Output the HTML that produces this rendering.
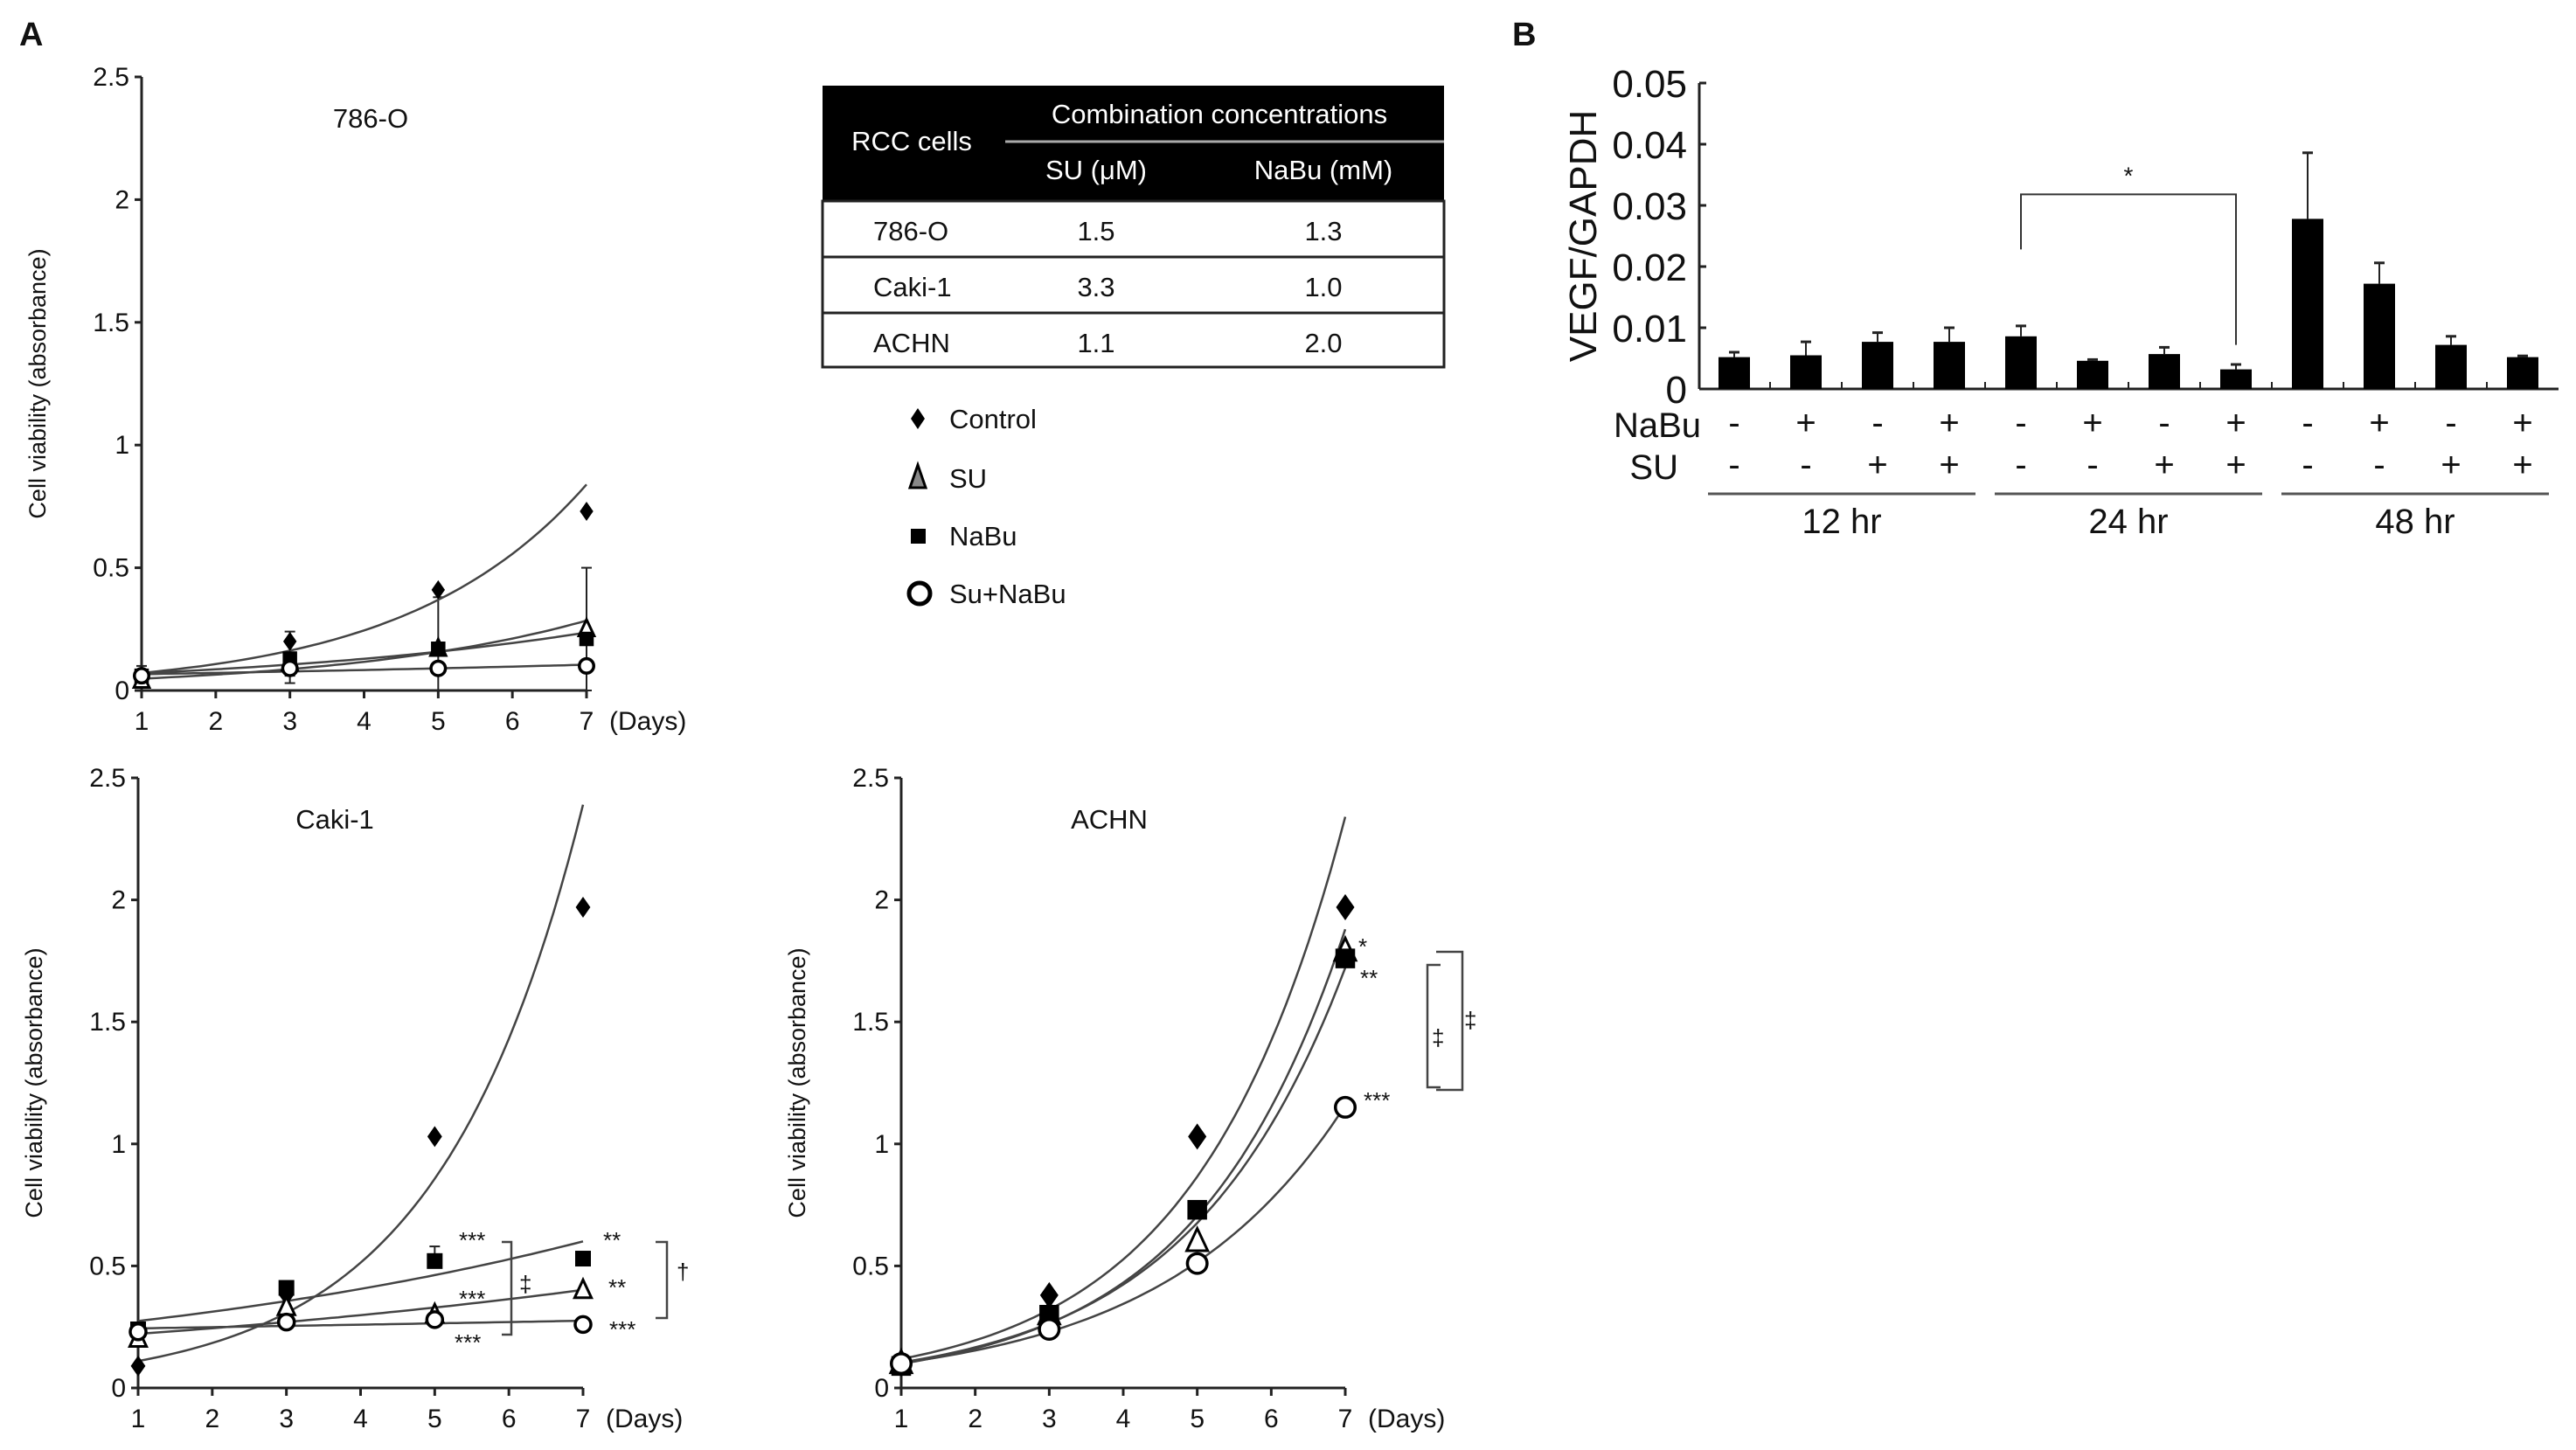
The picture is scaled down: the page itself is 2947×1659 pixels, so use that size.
<!DOCTYPE html>
<html><head><meta charset="utf-8"><style>
html,body{margin:0;padding:0;background:#fff;}
svg{display:block;}
text{font-family:"Liberation Sans Narrow","Liberation Sans",sans-serif;fill:#111;}
.yt{font-family:"Liberation Sans",sans-serif;}
</style></head><body>
<svg id="fig" width="2947" height="1659" viewBox="0 0 2947 1659" xmlns="http://www.w3.org/2000/svg">
<text x="22" y="52" font-size="38" font-weight="bold" font-family="Liberation Sans">A</text>
<text x="1730" y="52" font-size="38" font-weight="bold" font-family="Liberation Sans">B</text>
<g id="table">
<rect x="941" y="98" width="711" height="132" fill="#000"/>
<text x="1395" y="141" font-size="31" text-anchor="middle" style="fill:#fff">Combination concentrations</text>
<line x1="1150" y1="162" x2="1652" y2="162" stroke="#aaa" stroke-width="3"/>
<text x="1043" y="172" font-size="31" text-anchor="middle" style="fill:#fff">RCC cells</text>
<text x="1254" y="205" font-size="31" text-anchor="middle" style="fill:#fff">SU (μM)</text>
<text x="1514" y="205" font-size="31" text-anchor="middle" style="fill:#fff">NaBu (mM)</text>
<rect x="941" y="230" width="711" height="190" fill="none" stroke="#222" stroke-width="3"/>
<line x1="941" y1="294" x2="1652" y2="294" stroke="#222" stroke-width="3"/>
<line x1="941" y1="358" x2="1652" y2="358" stroke="#222" stroke-width="3"/>
<text x="999" y="275" font-size="31">786-O</text>
<text x="1254" y="275" font-size="31" text-anchor="middle">1.5</text>
<text x="1514" y="275" font-size="31" text-anchor="middle">1.3</text>
<text x="999" y="339" font-size="31">Caki-1</text>
<text x="1254" y="339" font-size="31" text-anchor="middle">3.3</text>
<text x="1514" y="339" font-size="31" text-anchor="middle">1.0</text>
<text x="999" y="403" font-size="31">ACHN</text>
<text x="1254" y="403" font-size="31" text-anchor="middle">1.1</text>
<text x="1514" y="403" font-size="31" text-anchor="middle">2.0</text>
</g>
<g id="legend">
<path d="M1050 467 L1058 479 L1050 491 L1042 479Z" fill="#000"/>
<text x="1086" y="490" font-size="31">Control</text>
<path d="M1050 532 L1059 558 L1041 558Z" fill="#888" stroke="#000" stroke-width="3"/>
<text x="1086" y="558" font-size="31">SU</text>
<rect x="1042" y="605" width="17" height="17" fill="#000"/>
<text x="1086" y="624" font-size="31">NaBu</text>
<circle cx="1052" cy="679" r="12" fill="#fff" stroke="#000" stroke-width="5"/>
<text x="1086" y="690" font-size="31">Su+NaBu</text>
</g>
</svg>
<script>
const days=[1,3,5,7];
const o_ctrl=[0.06,0.20,0.41,0.73];
const o_su=[0.04,0.11,0.17,0.25];
const o_nabu=[0.06,0.13,0.17,0.21];
const o_combo=[0.06,0.09,0.09,0.10];
const c_ctrl=[0.09,0.38,1.03,1.97];
const c_su=[0.20,0.33,0.30,0.40];
const c_nabu=[0.24,0.41,0.52,0.53];
const c_combo=[0.23,0.27,0.28,0.26];
const a_ctrl=[0.10,0.38,1.03,1.97];
const a_su=[0.10,0.30,0.60,1.79];
const a_nabu=[0.09,0.30,0.73,1.76];
const a_combo=[0.10,0.24,0.51,1.15];
const vTicks=[0,0.5,1,1.5,2,2.5];
const vTickLabels=["0","0.5","1","1.5","2","2.5"];
const dayTicks=[1,2,3,4,5,6,7];
const bVals=[0.0052,0.0055,0.0077,0.0077,0.0086,0.0046,0.0057,0.0032,0.0278,0.0172,0.0072,0.0052];
const bErr=[0.0008,0.0022,0.0015,0.0023,0.0017,0.0002,0.0011,0.0008,0.0108,0.0034,0.0014,0.0002];
const nabuRow=["-","+","-","+","-","+","-","+","-","+","-","+"];
const suRow=["-","-","+","+","-","-","+","+","-","-","+","+"];
const groups=["12 hr","24 hr","48 hr"];
const bTicks=[0,0.01,0.02,0.03,0.04,0.05];
const bTickLabels=["0","0.01","0.02","0.03","0.04","0.05"];

const NS="http://www.w3.org/2000/svg";
const svg=document.getElementById('fig');
function el(tag,attrs,parent,txt){const e=document.createElementNS(NS,tag);for(const k in attrs)e.setAttribute(k,attrs[k]);if(txt!==undefined)e.textContent=txt;(parent||svg).appendChild(e);return e;}
function expFit(xs,ys){const n=xs.length;let sx=0,sy=0,sxx=0,sxy=0;for(let i=0;i<n;i++){const l=Math.log(ys[i]);sx+=xs[i];sy+=l;sxx+=xs[i]*xs[i];sxy+=xs[i]*l;}const b=(n*sxy-sx*sy)/(n*sxx-sx*sx);const a=(sy-b*sx)/n;return x=>Math.exp(a+b*x);}

function panel(cfg){
  const g=el('g',{});
  
  
  const X=d=>cfg.x0+(d-1)*(cfg.x7-cfg.x0)/6;
  const Y=v=>cfg.y0-v*(cfg.y0-cfg.yTop)/2.5;
  el('line',{x1:cfg.x0,y1:Y(2.5),x2:cfg.x0,y2:cfg.y0+6,stroke:'#222','stroke-width':3},g);
  el('line',{x1:cfg.x0-6,y1:cfg.y0,x2:cfg.x7,y2:cfg.y0,stroke:'#222','stroke-width':3},g);
  vTicks.forEach((v,i)=>{el('line',{x1:cfg.x0-8,y1:Y(v),x2:cfg.x0,y2:Y(v),stroke:'#222','stroke-width':3},g);
    const t=el('text',{x:cfg.x0-14,y:Y(v)+10,'font-size':30,'text-anchor':'end'},g,vTickLabels[i]);
    });
  dayTicks.forEach(d=>{el('line',{x1:X(d),y1:cfg.y0,x2:X(d),y2:cfg.y0+9,stroke:'#222','stroke-width':3},g);
    const t=el('text',{x:X(d),y:cfg.y0+45,'font-size':30,'text-anchor':'middle'},g,String(d));
    });
  const dl=el('text',{x:cfg.x7+26,y:cfg.y0+45,'font-size':30},g,'(Days)');
  
  const yt=el('text',{class:'yt',x:0,y:0,'font-size':27,'text-anchor':'middle',transform:`translate(${cfg.x0-110},${(cfg.y0+Y(2.5))/2}) rotate(-90)`},g,'Cell viability (absorbance)');
  
  const tt=el('text',{x:cfg.titleX,y:Y(2.5)+58,'font-size':31,'text-anchor':'middle'},g,cfg.title);
  
  (cfg.err||[]).forEach(e=>{el('line',{x1:X(e[0]),y1:Y(e[1]),x2:X(e[0]),y2:Y(e[2]),stroke:'#222','stroke-width':2},g);
    [e[1],e[2]].forEach(v=>el('line',{x1:X(e[0])-6,y1:Y(v),x2:X(e[0])+6,y2:Y(v),stroke:'#222','stroke-width':2},g));});
  const series=[['control',cfg.ctrl],['su',cfg.su],['nabu',cfg.nabu],['combo',cfg.combo]];
  series.forEach(([nm,vals])=>{const f=expFit(days,vals);let d='';for(let k=0;k<=60;k++){const x=1+6*k/60;const v=f(x);if(v>2.5)break;d+=(k?'L':'M')+X(x).toFixed(1)+' '+Y(v).toFixed(1);}
    const p=el('path',{d:d,fill:'none',stroke:'#444','stroke-width':2.5},g);
    });
  const s=cfg.ms;
  series.forEach(([nm,vals])=>{vals.forEach((v,i)=>{const cx=X(days[i]),cy=Y(v);let m;
    if(nm==='control')m=el('path',{d:`M${cx} ${cy-s} L${cx+s*0.7} ${cy} L${cx} ${cy+s} L${cx-s*0.7} ${cy}Z`,fill:'#000'},g);
    else if(nm==='su')m=el('path',{d:`M${cx} ${cy-s} L${cx+s*0.8} ${cy+s*0.7} L${cx-s*0.8} ${cy+s*0.7}Z`,fill:'#fff',stroke:'#000','stroke-width':3},g);
    else if(nm==='nabu')m=el('rect',{x:cx-s*0.75,y:cy-s*0.75,width:s*1.5,height:s*1.5,fill:'#000'},g);
    else m=el('circle',{cx:cx,cy:cy,r:s*0.75,fill:'#fff',stroke:'#000','stroke-width':3.5},g);
    });});
  (cfg.notes||[]).forEach(n=>{const t=el('text',{x:n[0],y:n[1],'font-size':n[3]||26,fill:'#555'},g,n[2]);
    });
  (cfg.brackets||[]).forEach(b=>{const p=el('path',{d:`M${b[0]} ${b[1]} L${b[2]} ${b[1]} L${b[2]} ${b[3]} L${b[0]} ${b[3]}`,fill:'none',stroke:'#444','stroke-width':2.5},g);
    });
}
panel({name:'panel-786o',title:'786-O',titleX:424,x0:162,x7:671,y0:790,yTop:88,ctrl:o_ctrl,su:o_su,nabu:o_nabu,combo:o_combo,ms:11,
  err:[[3,0.06,0.24],[5,0.0,0.38],[7,0.0,0.5],[1,0.03,0.1],[3,0.03,0.14]]});
panel({name:'panel-caki1',title:'Caki-1',titleX:383,x0:158,x7:667,y0:1588,yTop:890,ctrl:c_ctrl,su:c_su,nabu:c_nabu,combo:c_combo,ms:12,
  err:[[5,0.52,0.58]],
  notes:[[525,1428,'***'],[525,1495,'***'],[520,1545,'***'],[690,1428,'**'],[696,1482,'**'],[697,1530,'***'],[594,1478,'‡'],[774,1464,'†']],
  brackets:[[574,1421,585,1527],[750,1421,763,1508]]});
panel({name:'panel-achn',title:'ACHN',titleX:1269,x0:1031,x7:1539,y0:1588,yTop:890,ctrl:a_ctrl,su:a_su,nabu:a_nabu,combo:a_combo,ms:15,
  notes:[[1554,1092,'*'],[1556,1128,'**'],[1560,1268,'***'],[1638,1196,'‡'],[1675,1176,'‡']],
  brackets:[[1648,1104,1633,1244],[1643,1089,1673,1247]]});

// Panel B
const gb=el('g',{});


const bx0=1944,bx1=2927,by0=445,byTop=95;
const BY=v=>by0-v*(by0-byTop)/0.05;
const BX=i=>1984+i*82;
el('line',{x1:bx0,y1:byTop,x2:bx0,y2:by0,stroke:'#222','stroke-width':3},gb);
el('line',{x1:bx0,y1:by0,x2:bx1,y2:by0,stroke:'#222','stroke-width':3},gb);
bTicks.forEach((v,i)=>{el('line',{x1:bx0,y1:BY(v),x2:bx0+8,y2:BY(v),stroke:'#222','stroke-width':3},gb);
  const t=el('text',{x:bx0-14,y:BY(v)+16,'font-size':44,'text-anchor':'end'},gb,bTickLabels[i]);
  });
const byt=el('text',{class:'yt',x:0,y:0,'font-size':44,'text-anchor':'middle',transform:`translate(1826,${(by0+byTop)/2}) rotate(-90)`},gb,'VEGF/GAPDH');

bVals.forEach((v,i)=>{const cx=BX(i);
  const e=el('line',{x1:cx,y1:BY(v),x2:cx,y2:BY(v+bErr[i]),stroke:'#222','stroke-width':2},gb);
  el('line',{x1:cx-6,y1:BY(v+bErr[i]),x2:cx+6,y2:BY(v+bErr[i]),stroke:'#222','stroke-width':3},gb);
  const r=el('rect',{x:cx-18,y:BY(v),width:36,height:by0-BY(v),fill:'#000'},gb);
  
  if(i>0)el('line',{x1:cx-41,y1:by0,x2:cx-41,y2:by0-8,stroke:'#222','stroke-width':2},gb);
  const n=el('text',{x:cx,y:497,'font-size':40,'text-anchor':'middle'},gb,nabuRow[i]);
  
  const s=el('text',{x:cx,y:545,'font-size':40,'text-anchor':'middle'},gb,suRow[i]);
  });
const nl=el('text',{x:1946,y:500,'font-size':40,'text-anchor':'end'},gb,'NaBu');

const sl=el('text',{x:1920,y:548,'font-size':40,'text-anchor':'end'},gb,'SU');

groups.forEach((gname,k)=>{const xa=BX(k*4)-30,xb=BX(k*4+3)+30;
  el('line',{x1:xa,y1:565,x2:xb,y2:565,stroke:'#555','stroke-width':3},gb);
  const t=el('text',{x:(xa+xb)/2,y:610,'font-size':40,'text-anchor':'middle'},gb,gname);
  });
const br=el('path',{d:`M${BX(4)} ${BY(0.0228)} L${BX(4)} ${BY(0.0318)} L${BX(7)} ${BY(0.0318)} L${BX(7)} ${BY(0.0072)}`,fill:'none',stroke:'#333','stroke-width':2},gb);

const st=el('text',{x:(BX(4)+BX(7))/2,y:BY(0.0318)-12,'font-size':28,'text-anchor':'middle',fill:'#555'},gb,'*');

</script>
</body></html>
